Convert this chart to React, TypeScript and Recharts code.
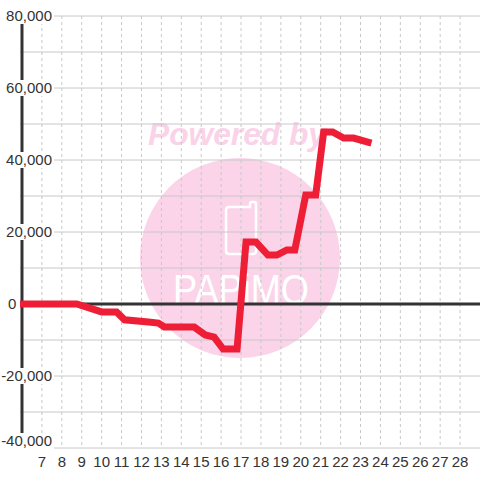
import { CartesianGrid, Line, LineChart, ReferenceLine, XAxis, YAxis } from 'recharts';

// day of month (fractional = time of day) and running balance
const days = [5.9, 8.75, 10, 10.75, 11.15, 12.35, 12.85, 13.15, 14.65, 15.2, 15.65, 16.1, 16.8, 17.25, 17.75, 18.35, 18.8, 19.3, 19.7, 20.25, 20.75, 21.15, 21.6, 22.15, 22.65, 23.55];
const balance = [0, 0, -2200, -2200, -4400, -5000, -5300, -6400, -6400, -8600, -9200, -12500, -12500, 17200, 17200, 13600, 13600, 15000, 15000, 30300, 30300, 47800, 47800, 46100, 46100, 44700];

const dayTicks = [7, 8, 9, 10, 11, 12, 13, 14, 15, 16, 17, 18, 19, 20, 21, 22, 23, 24, 25, 26, 27, 28];
const yTicks = [-40000, -20000, 0, 20000, 40000, 60000, 80000];
const yGrid = [-40000, -30000, -20000, -10000, 0, 10000, 20000, 30000, 40000, 50000, 60000, 70000, 80000];

const data = days.map((day, i) => ({ day, value: balance[i] }));

const FONT = '"Liberation Sans", Arial, sans-serif';

function YTick(props: any) {
  const { y, payload } = props;
  const v = payload.value as number;
  const label = v.toLocaleString('en-US');
  const isZero = v === 0;
  // keep the lowest label inside the plot
  const ty = Math.min(y, 441);
  return (
    <g>
      {!isZero && <rect x={2} y={ty - 8} width={52} height={16} fill="#fff" />}
      <text
        x={isZero ? 8 : 52}
        y={ty}
        dy="0.35em"
        textAnchor={isZero ? 'start' : 'end'}
        fill="#333"
        fontSize={15}
        fontFamily={FONT}
      >
        {label}
      </text>
    </g>
  );
}

function Watermark() {
  return (
    <svg width={480} height={480} style={{ position: 'absolute', left: 0, top: 0 }}>
      <circle cx={240} cy={258} r={100} fill="#FBD4EA" />
      <text
        x={148}
        y={145}
        fontSize={31}
        fontWeight="bold"
        fontStyle="italic"
        fontFamily={FONT}
        fill="#FAD3E9"
        textLength={178}
        lengthAdjust="spacingAndGlyphs"
      >
        Powered by
      </text>
      <path
        d="M229 207 H250 V204 Q250 202 252 202 H254 Q256 202 256 204 V251 Q256 254 253 254 H229 Q226 254 226 251 V210 Q226 207 229 207 Z"
        fill="none"
        stroke="#fff"
        strokeWidth={2.5}
      />
      <text
        x={173}
        y={304}
        fontSize={42}
        fontFamily={FONT}
        fill="#fff"
        textLength={136}
        lengthAdjust="spacingAndGlyphs"
      >
        PAPiMO
      </text>
    </svg>
  );
}

export default function App() {
  return (
    <div style={{ position: 'absolute', left: 0, top: 0, width: 480, height: 480, background: '#fff' }}>
      <Watermark />
      <div style={{ position: 'absolute', left: 0, top: 0 }}>
        <LineChart
          width={480}
          height={480}
          data={data}
          margin={{ top: 16, right: 0, left: 0, bottom: 0 }}
          style={{ fontFamily: FONT }}
        >
          <CartesianGrid horizontal vertical={false} stroke="#c8c8c8" horizontalValues={yGrid} />
          <CartesianGrid horizontal={false} vertical stroke="#c8c8c8" strokeDasharray="3 3" verticalValues={dayTicks} />
          <XAxis
            dataKey="day"
            type="number"
            domain={[6, 29]}
            ticks={dayTicks}
            interval={0}
            axisLine={false}
            tickLine={false}
            height={32}
            tick={{ fill: '#333', fontSize: 15 }}
          />
          <YAxis
            type="number"
            domain={[-40000, 80000]}
            ticks={yTicks}
            interval={0}
            width={20}
            axisLine={false}
            tickLine={false}
            tick={(p: any) => <YTick {...p} />}
          />
          <ReferenceLine x={6} stroke="#333" strokeWidth={3} />
          <ReferenceLine y={0} stroke="#333" strokeWidth={3} />
          <Line
            type="linear"
            dataKey="value"
            stroke="#EE1E36"
            strokeWidth={7}
            dot={false}
            activeDot={false}
            isAnimationActive={false}
          />
        </LineChart>
      </div>
    </div>
  );
}
